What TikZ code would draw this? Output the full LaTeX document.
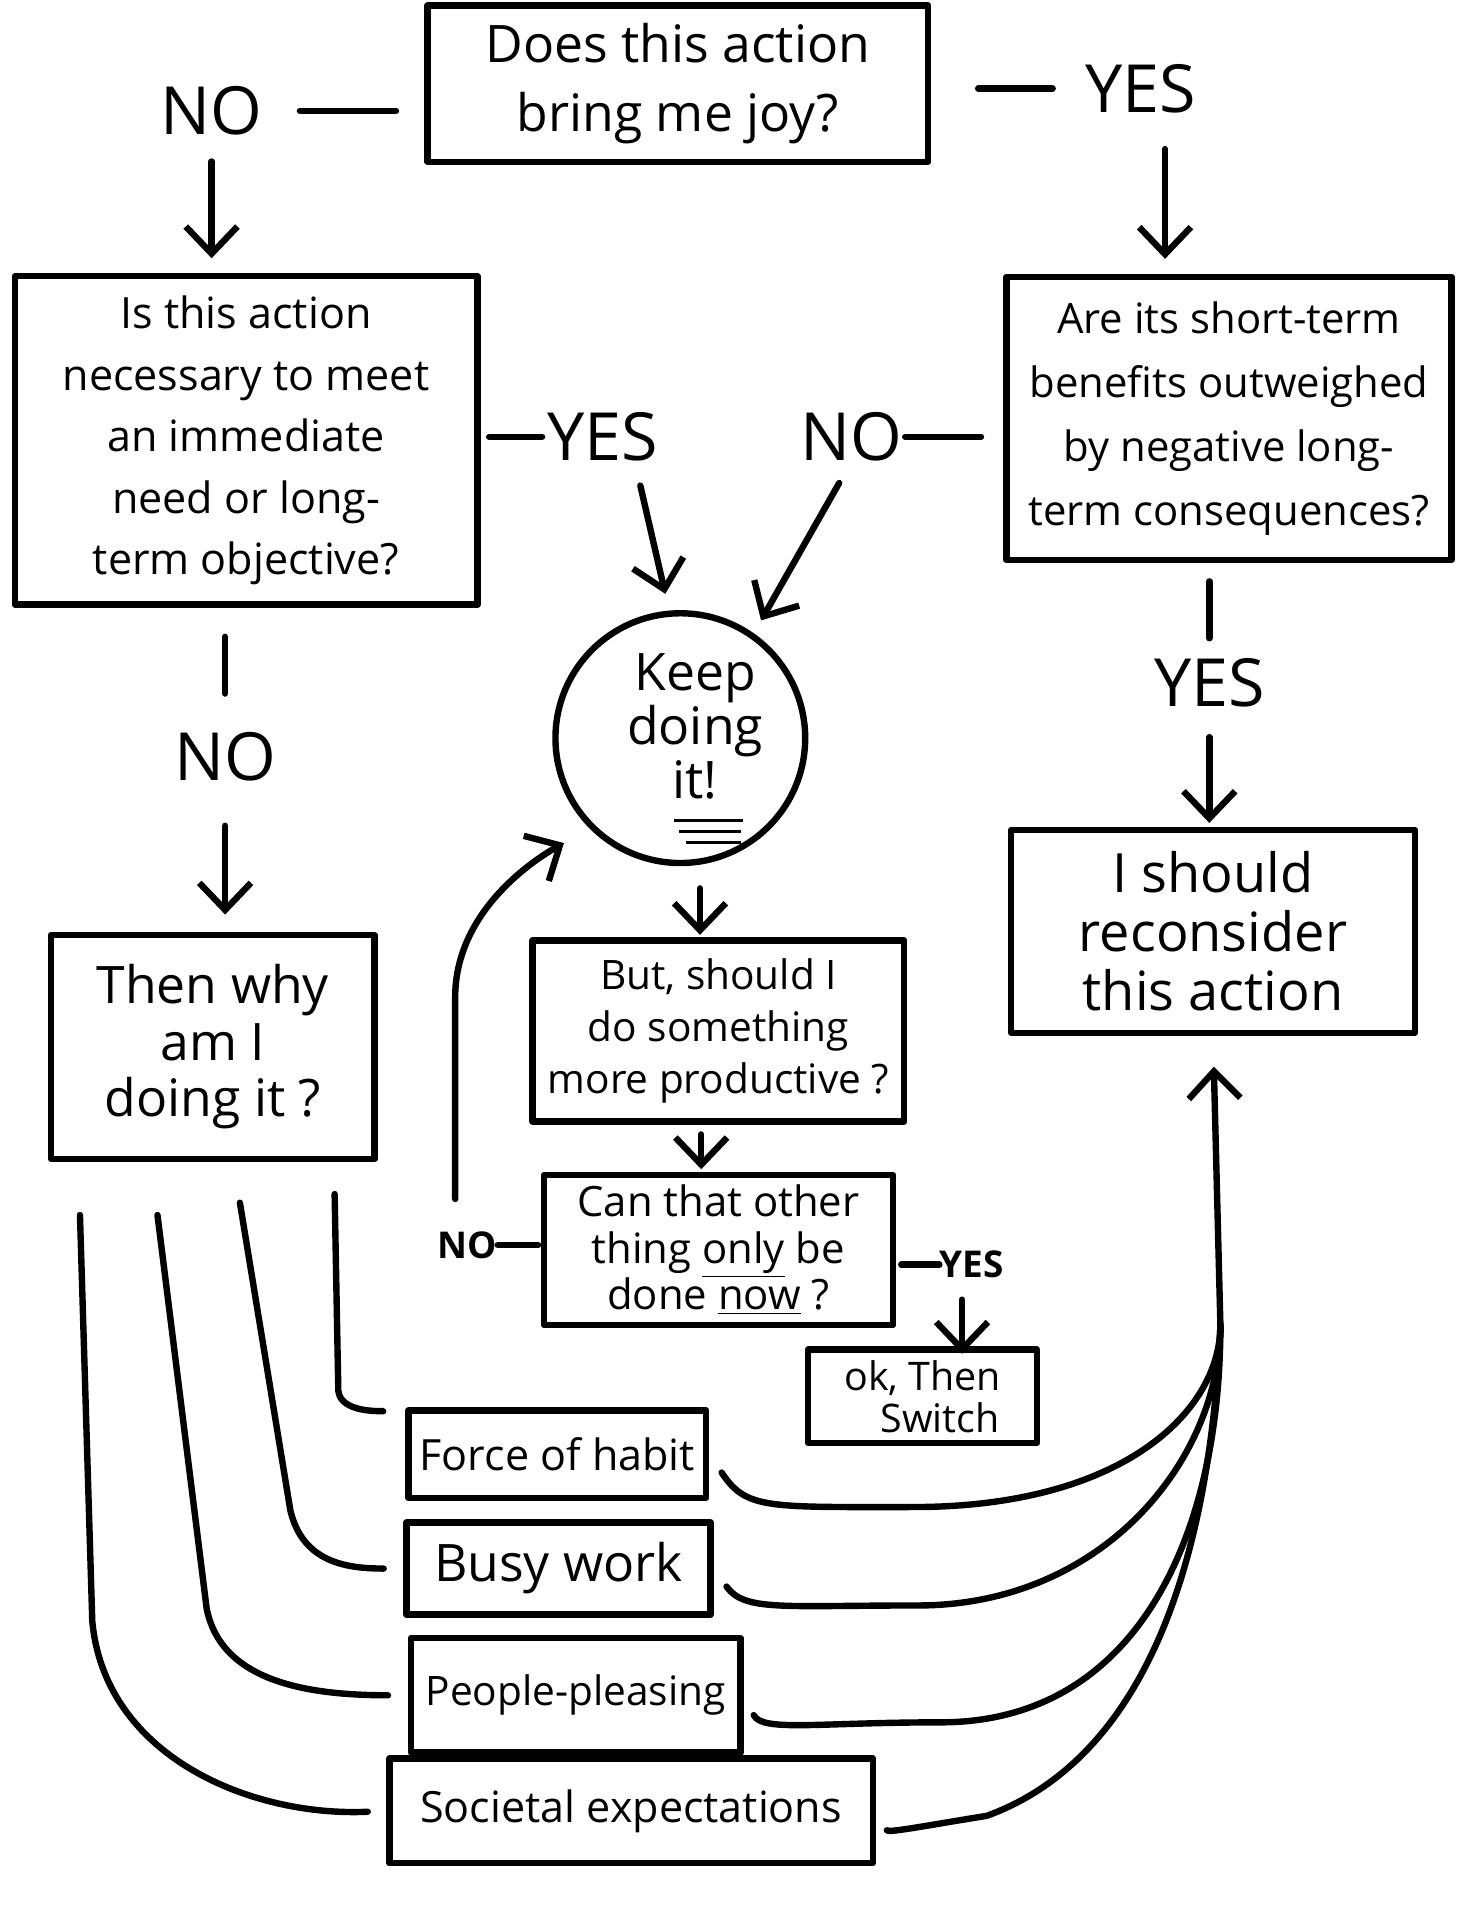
\documentclass[tikz,border=0pt]{standalone}
\usepackage{fontspec}
\setmainfont{Open Sans}
\usetikzlibrary{arrows.meta}

\tikzset{
    pen/.style={line width=2.6pt, line cap=round, line join=round},
    box/.style={pen, draw, rectangle, align=center, inner sep=0pt},
    answer/.style={inner sep=0pt, font=\fontsize{27}{27}\selectfont},
    minor answer/.style={inner sep=0pt, font=\bfseries\fontsize{15}{15}\selectfont},
}

\begin{document}
\begin{tikzpicture}[x=0.5pt, y=-0.5pt, >={Straight Barb[length=11pt, width=21pt]}]
    \useasboundingbox (0,0) rectangle (1184,1568);

    % Questions
    \node[box, minimum width=203.5pt, minimum height=63.5pt, font=\fontsize{21}{28}\selectfont]
        (joy) at (551,68) {Does this action\\bring me joy?};
    \node[box, minimum width=188pt, minimum height=133.5pt, font=\fontsize{17.5}{25}\selectfont]
        (needed) at (200,358) {Is this action\\necessary to meet\\an immediate\\need or long-\\term objective?};
    \node[box, minimum width=181pt, minimum height=115pt, font=\fontsize{17}{26}\selectfont]
        (outweigh) at (999,340) {Are its short-term\\benefits outweighed\\by negative long-\\term consequences?};
    \node[pen, draw, circle, minimum size=101.5pt, inner sep=0pt, align=center, font=\fontsize{21}{22}\selectfont]
        (keep) at (553,600) {\hspace*{12pt}Keep\\\hspace*{12pt}doing\\\hspace*{12pt}it!\\[-12pt]\mbox{}};
    \node[box, minimum width=151pt, minimum height=73.5pt, font=\fontsize{16.5}{21}\selectfont]
        (productive) at (584,838) {But, should I\\do something\\more productive ?};
    \node[box, minimum width=142pt, minimum height=61pt, font=\fontsize{17}{19}\selectfont]
        (onlynow) at (584,1016) {Can that other\\thing \underline{only} be\\done \underline{now} ?};
    \node[box, minimum width=93pt, minimum height=38pt, font=\fontsize{16}{17}\selectfont]
        (switch) at (750,1135) {ok, Then\\\hspace*{14pt}Switch};
    \node[box, minimum width=131.5pt, minimum height=91pt, font=\fontsize{21}{23}\selectfont]
        (why) at (173,851) {Then why\\am I\\doing it ?};
    \node[box, minimum width=164pt, minimum height=82.5pt, font=\fontsize{22}{24}\selectfont]
        (reconsider) at (986,757) {I should\\reconsider\\this action};

    % Reasons
    \node[box, minimum width=121pt, minimum height=35.5pt, font=\fontsize{17.5}{18}\selectfont]
        (habit) at (453,1182) {Force of habit};
    \node[box, minimum width=123.5pt, minimum height=37.5pt, font=\fontsize{21}{22}\selectfont]
        (busy) at (454,1275) {Busy work};
    \node[box, minimum width=134pt, minimum height=46.5pt, font=\fontsize{16.5}{17}\selectfont]
        (pleasing) at (468,1378) {People-pleasing};
    \node[box, minimum width=196.5pt, minimum height=42.5pt, font=\fontsize{17.5}{18}\selectfont]
        (societal) at (513,1472) {Societal expectations};

    % Answers
    \node[answer] (no1) at (172,90) {NO};
    \node[answer] (yes1) at (927,72) {YES};
    \node[answer] (yes2) at (490,355) {YES};
    \node[answer] (no2) at (692,355) {NO};
    \node[answer] (no3) at (183,615) {NO};
    \node[answer] (yes3) at (983,555) {YES};
    \node[minor answer] (no4) at (380,1012) {NO};
    \node[minor answer] (yes4) at (790,1028) {YES};

    % Top question
    \draw[pen, shorten <=15pt, shorten >=11.5pt] (no1.east) -- (no1.east -| joy.west);
    \draw[pen, ->, shorten <=10.5pt, shorten >=6pt] (no1.south) -- (no1.south |- needed.north);
    \draw[pen, shorten <=19pt, shorten >=13pt] (joy.east |- yes1.west) -- (yes1.west);
    \draw[pen, ->, shorten <=14.5pt, shorten >=6pt] ([xshift=10pt]yes1.south) -- ([xshift=10pt]yes1.south |- outweigh.north);

    % Into the circle
    \draw[pen, shorten <=3.5pt, shorten >=2pt] (needed.east |- yes2.west) -- (yes2.west);
    \draw[pen, ->, shorten <=10pt, shorten >=7pt] ([xshift=13pt]yes2.south) -- (keep.95);
    \draw[pen, shorten <=1pt, shorten >=9pt] (no2.east) -- (no2.east -| outweigh.west);
    \draw[pen, ->, shorten <=10pt, shorten >=6pt] (no2.south) -- (keep.55);

    % Down the sides
    \draw[pen, shorten <=11.75pt, shorten >=15.5pt] (no3.north |- needed.south) -- (no3.north);
    \draw[pen, ->, shorten <=18pt, shorten >=7pt] (no3.south) -- (no3.south |- why.north);
    \draw[pen, shorten <=7.5pt, shorten >=8pt] (yes3.north |- outweigh.south) -- (yes3.north);
    \draw[pen, ->, shorten <=12pt, shorten >=1.5pt] (yes3.south) -- (yes3.south |- reconsider.north);

    % Below the circle
    \draw[pen, ->, shorten <=9pt, shorten >=1pt] ([xshift=8pt]keep.south) -- ([xshift=8pt]keep.south |- productive.north);
    \draw[pen, ->, shorten <=4pt, shorten >=1pt] ([xshift=-7pt]productive.south) -- ([xshift=-7pt]productive.south |- onlynow.north);
    \draw[pen, shorten >=1pt] (no4.east) -- (no4.east -| onlynow.west);
    \draw[pen, ->, shorten <=13pt, shorten >=12pt] ([xshift=-5pt]no4.north) -- ++(0,-190)
        .. controls +(0,-70) and +(-45,25) .. (keep.225);
    \draw[pen, shorten <=2pt] (onlynow.east |- yes4.west) -- (yes4.west);
    \draw[pen, ->, shorten <=8.5pt, shorten >=-3pt] ([xshift=-4pt]yes4.south) -- ([xshift=-4pt]yes4.south |- switch.north);

    % it! underlined
    \draw[line width=1.2pt] (548,667) -- (604,667);
    \draw[line width=1.2pt] (552,676) -- (602,676);
    \draw[line width=1.2pt] (558,685) -- (602,685);

    % Why am I doing it
    \coordinate (habitroot) at ([xshift=49.5pt, yshift=-13pt]why.south);
    \coordinate (busyroot) at ([xshift=11pt, yshift=-16.5pt]why.south);
    \coordinate (pleasingroot) at ([xshift=-22.5pt, yshift=-21.5pt]why.south);
    \coordinate (societalroot) at ([xshift=-54pt, yshift=-21.5pt]why.south);
    \draw[pen, shorten >=9pt] (habitroot) -- ++(3,160) .. controls +(2,18) and +(-20,-2) .. (habit.165);
    \draw[pen, shorten >=8pt] (busyroot) -- ++(41,250) .. controls +(10,43) and +(-45,0) .. (busy.west);
    \draw[pen, shorten >=8pt] (pleasingroot) -- ++(40,320) .. controls +(12,60) and +(-80,0) .. (pleasing.west);
    \draw[pen, shorten >=7.5pt] (societalroot) -- ++(10,330) .. controls +(10,110) and +(-110,5) .. (societal.west);

    % Back up to reconsider
    \coordinate (merge) at ([xshift=3pt, yshift=-117.5pt]reconsider.south);
    \draw[pen, ->, shorten >=12.5pt] (merge) -- (reconsider.south);
    \draw[pen, shorten <=9pt] (habit.east) .. controls +(30,45) and +(-120,0) .. ++(166,43)
        .. controls +(170,0) and +(0,70) .. (merge);
    \draw[pen, shorten <=9pt] (busy.east) .. controls +(25,35) and +(-110,0) .. ++(166,30)
        .. controls +(150,0) and +(0,110) .. (merge);
    \draw[pen, shorten <=9pt] (pleasing.east) .. controls +(15,30) and +(-100,0) .. ++(160,22)
        .. controls +(160,0) and +(0,170) .. (merge);
    \draw[pen, shorten <=9pt] (societal.east) .. controls +(10,18) and +(-50,8) .. ++(90,4)
        .. controls +(110,-40) and +(-10,230) .. (merge);

\end{tikzpicture}
\end{document}
